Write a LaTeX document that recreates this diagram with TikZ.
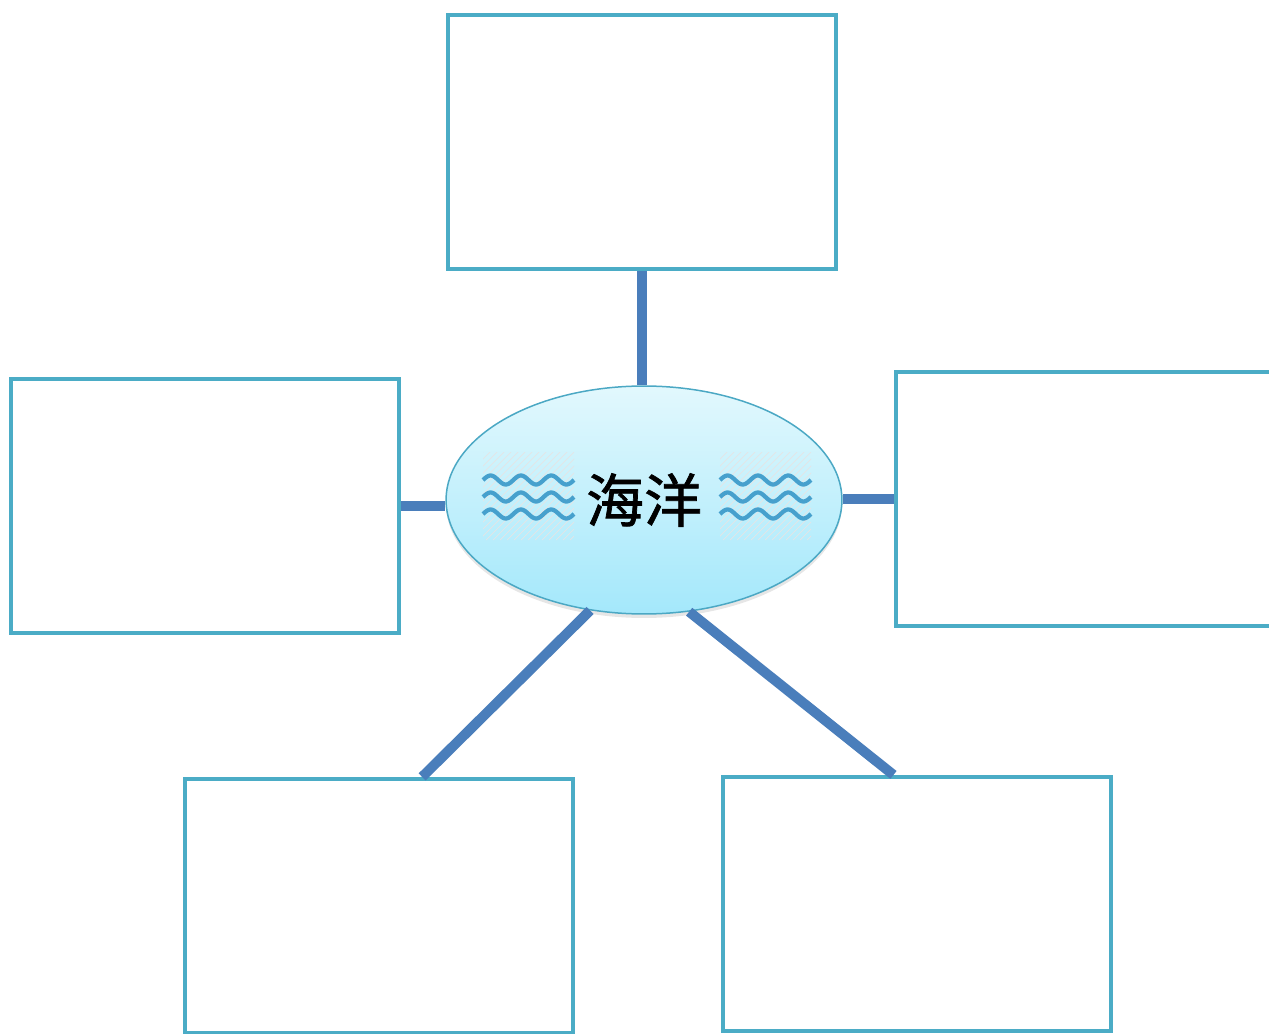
\documentclass[tikz,border=0pt]{standalone}
\usepackage{fontspec}
\newfontfamily\cjk[UprightFeatures={FakeBold=1.2}]{Noto Sans CJK SC}
\usetikzlibrary{shapes.geometric, shadows, calc}

\definecolor{boxline}{RGB}{75,172,198}
\definecolor{linkline}{RGB}{74,126,187}
\definecolor{wavecol}{RGB}{70,160,205}
\definecolor{seatop}{RGB}{226,248,253}
\definecolor{seabot}{RGB}{164,232,251}
\definecolor{seaedge}{RGB}{75,168,196}

\begin{document}
\begin{tikzpicture}[x=0.02cm, y=-0.02cm,
  box/.style={draw=boxline, line width=0.085cm, fill=white, minimum width=7.76cm, minimum height=5.08cm, inner sep=0pt},
  link/.style={draw=linkline, line width=0.2cm},
  wave/.style={draw=wavecol, line width=0.085cm},
  hatch/.style={draw=black!10, line width=0.4pt},]
   \useasboundingbox (0,0) rectangle (1269,1034);
   \node[box] (top) at (642,142) {};
   \node[box] (left) at (205,506) {};
   \node[box] (right) at (1090,499) {};
   \node[box] (bl) at (379,906) {};
   \node[box] (br) at (917,904) {};
   \node[ellipse, draw=seaedge, line width=0.03cm, top color=seatop, bottom color=seabot,
         minimum width=7.92cm, minimum height=4.56cm, inner sep=0pt,
         drop shadow={shadow xshift=0pt, shadow yshift=-0.08cm, opacity=0.2}]
         (ocean) at (644,500) {\cjk\fontsize{33}{36}\selectfont 海洋};

   % hatching and waves on both sides of the text
   \foreach \side in {483,720} {
      \begin{scope}
         \clip (\side,452) rectangle ++(91,88);
         \foreach \d in {0,7,...,182}
            \draw[hatch] (\side+\d-88,540) -- (\side+\d,452);
      \end{scope}
      \foreach \yy in {480,497,514}
         \draw[wave] plot[domain=0:1080, samples=73, smooth, variable=\t] ({\side+\t/1080*91}, {\yy-4.5*sin(\t)});
   }

   \draw[link] (top.south) -- (top.south |- ocean.north);
   \draw[link] (left.east) -- (left.east -| ocean.west);
   \draw[link] (right.west) -- (right.west -| ocean.east);
   \draw[link] (ocean.-116) -- ($(bl.north west)!0.61!(bl.north east)$);
   \draw[link] (ocean.-68) -- ($(br.north west)!0.44!(br.north east)$);
\end{tikzpicture}
\end{document}
